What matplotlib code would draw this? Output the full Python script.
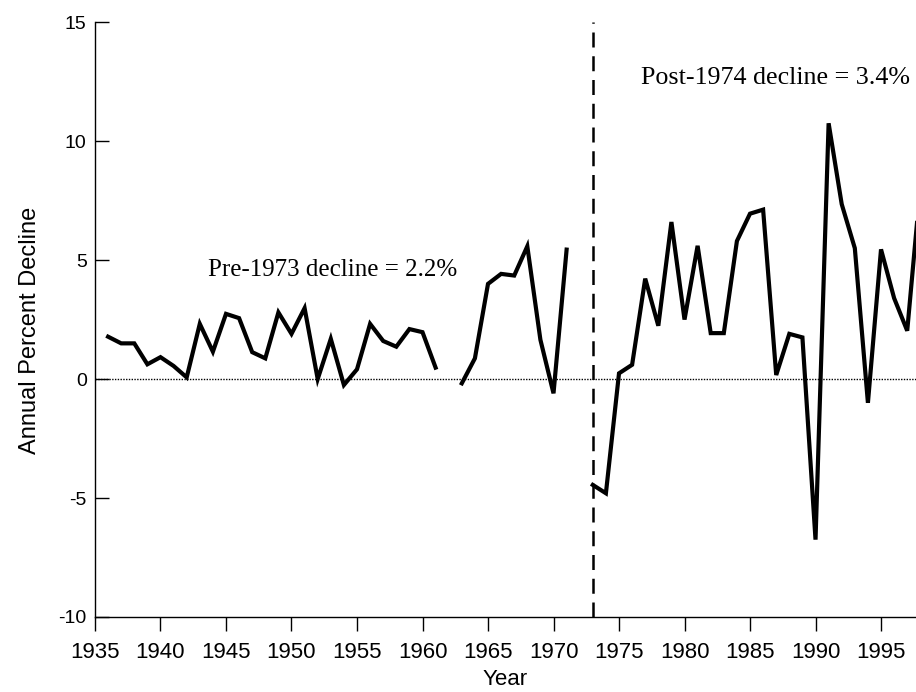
import matplotlib.pyplot as plt
import numpy as np

# annual percent decline, 1936-1998 (NaN = no data)
years = list(range(1936, 1999))
decline = [1.78, 1.5, 1.5, 0.62, 0.92, 0.55, 0.07, 2.32, 1.15, 2.74,
           2.56, 1.13, 0.87, 2.8, 1.9, 2.98, 0.0, 1.69, -0.25, 0.41,
           2.32, 1.6, 1.36, 2.1, 1.97, 0.48, np.nan, -0.18, 0.87, 4.0,
           4.42, 4.35, 5.58, 1.65, -0.6, 5.44, np.nan, -4.45, -4.8, 0.24,
           0.6, 4.22, 2.24, 6.6, 2.5, 5.6, 1.93, 1.93, 5.8, 6.95,
           7.12, 0.17, 1.9, 1.75, -6.75, 10.75, 7.35, 5.5, -1.0, 5.45,
           3.4, 2.03, 8.1]

break_year = 1973
pre_text = "Pre-1973 decline = 2.2%"
post_text = "Post-1974 decline = 3.4%"
xticks = list(range(1935, 2000, 5))
yticks = [-10, -5, 0, 5, 10, 15]

plt.rcParams['font.family'] = ['Liberation Sans', 'DejaVu Sans']
plt.rcParams['axes.unicode_minus'] = False
narrow = ['Liberation Sans Narrow', 'Liberation Sans']

fig = plt.figure(figsize=(9.16, 6.92), dpi=100)
ax = fig.add_axes([0.1037, 0.1084, 0.8963, 0.8596])

ax.plot(years, decline, color='black', lw=3.0, solid_joinstyle='miter')
ax.axhline(0, color='black', lw=1.0, ls=(0, (1, 1)))
ax.axvline(break_year, color='black', lw=1.8, ls=(0, (6, 3.5)))

ax.set_xlim(1935, 1997.67)
ax.set_ylim(-10, 15)
ax.set_xticks(xticks)
ax.set_yticks(yticks)

for s in ['top', 'right']:
    ax.spines[s].set_visible(False)
ax.spines['left'].set_linewidth(1.0)
ax.spines['bottom'].set_linewidth(1.0)

ax.tick_params(axis='x', direction='out', length=10, width=1, pad=8)
ax.tick_params(axis='y', direction='in', length=10, width=1, labelsize=14, pad=6)
for lab in ax.get_xticklabels():
    lab.set_family(narrow)
    lab.set_fontsize(16)

ax.set_xlabel("Year", fontsize=16, family=narrow, labelpad=4)
ax.set_ylabel("Annual Percent Decline", fontsize=17)
ax.yaxis.set_label_coords(-0.066, 0.482)

ax.text(1943.6, 4.6, pre_text, family='Liberation Serif', fontsize=18,
        va='center', ha='left')
ax.text(1976.7, 12.65, post_text, family='Liberation Serif', fontsize=18.7,
        va='center', ha='left')

plt.savefig("out.png", dpi=100)
